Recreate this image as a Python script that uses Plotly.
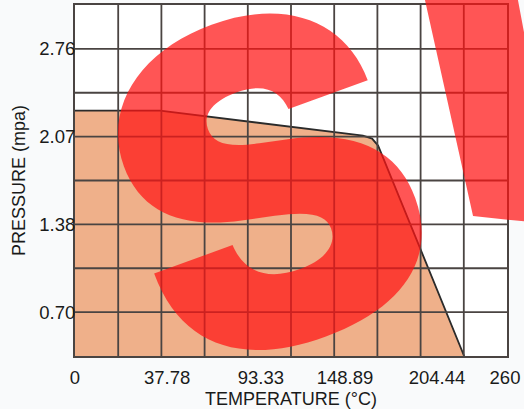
import plotly.graph_objects as go

# Pressure-temperature rating curve
temp_c = [0, 51.2, 173.3, 178.8, 182.4, 185.4, 234.2]
pressure_mpa = [2.272, 2.272, 2.076, 2.053, 1.998, 1.904, 0.3447]

x_tick_vals = [0, 55.4, 111.9, 162.5, 217.9, 258.8]
x_tick_text = ["0", "37.78", "93.33", "148.89", "204.44", "260"]
y_tick_vals = [0.6895, 1.379, 2.068, 2.758]
y_tick_text = ["0.70", "1.38", "2.07", "2.76"]

x_range = [0, 260]
x_grid_step = 26
y_range = [0.3447, 3.1026]
y_grid_step = 0.34474

grid_col = "#4a4442"
text_col = "#1a1a1a"

fig = go.Figure()
fig.add_trace(go.Scatter(
    x=temp_c, y=pressure_mpa, mode="lines",
    line=dict(color="#2b2b2b", width=1.8),
    fill="tozeroy", fillcolor="#EFB08A",
    hoverinfo="skip", showlegend=False,
))

# grid drawn above the filled area, as in the original chart
n_x = round((x_range[1] - x_range[0]) / x_grid_step)
for i in range(1, n_x):
    gx = x_range[0] + i * x_grid_step
    fig.add_shape(type="line", xref="x", yref="paper", x0=gx, x1=gx, y0=0, y1=1,
                  line=dict(color=grid_col, width=1.8), layer="above")
n_y = round((y_range[1] - y_range[0]) / y_grid_step)
for i in range(1, n_y):
    gy = y_range[0] + i * y_grid_step
    fig.add_shape(type="line", xref="paper", yref="y", x0=0, x1=1, y0=gy, y1=gy,
                  line=dict(color=grid_col, width=1.8), layer="above")

fig.update_xaxes(
    range=x_range, tickmode="array", tickvals=x_tick_vals, ticktext=x_tick_text,
    showgrid=False, zeroline=False, ticks="", automargin=False,
    showline=True, mirror=True, linecolor=grid_col, linewidth=2,
    title=dict(text="TEMPERATURE (°C)", font=dict(size=18, color=text_col)),
    tickfont=dict(size=18.5, color=text_col), ticklabelstandoff=4,
)
fig.update_yaxes(
    range=y_range, tickmode="array", tickvals=y_tick_vals, ticktext=y_tick_text,
    showgrid=False, zeroline=False, ticks="", automargin=False,
    showline=True, mirror=True, linecolor=grid_col, linewidth=2,
    title=dict(text="PRESSURE (mpa)", standoff=9, font=dict(size=18, color=text_col)),
    tickfont=dict(size=18.5, color=text_col), ticklabelstandoff=-6,
)

# Red watermark letters
wm_font = dict(family="Inter, Roboto, Lato, sans-serif", size=445, color="rgba(255,20,20,0.72)", weight=900)
fig.add_annotation(text="S", x=0.44, y=0.495, xref="paper", yref="paper",
                   xanchor="center", yanchor="middle", showarrow=False,
                   font=wm_font, textangle=-20)
fig.add_annotation(text="V", x=1.095, y=0.84, xref="paper", yref="paper",
                   xanchor="center", yanchor="middle", showarrow=False,
                   font=wm_font, textangle=6)

fig.update_layout(
    width=524, height=409,
    margin=dict(l=75, r=17, t=5, b=53),
    paper_bgcolor="#f9fafb", plot_bgcolor="white",
    font=dict(family="Liberation Sans, Arial, sans-serif"),
)
fig.write_html("out.html", config={"displayModeBar": False},
               post_script="document.body.style.margin='0';document.body.style.overflow='hidden';")
